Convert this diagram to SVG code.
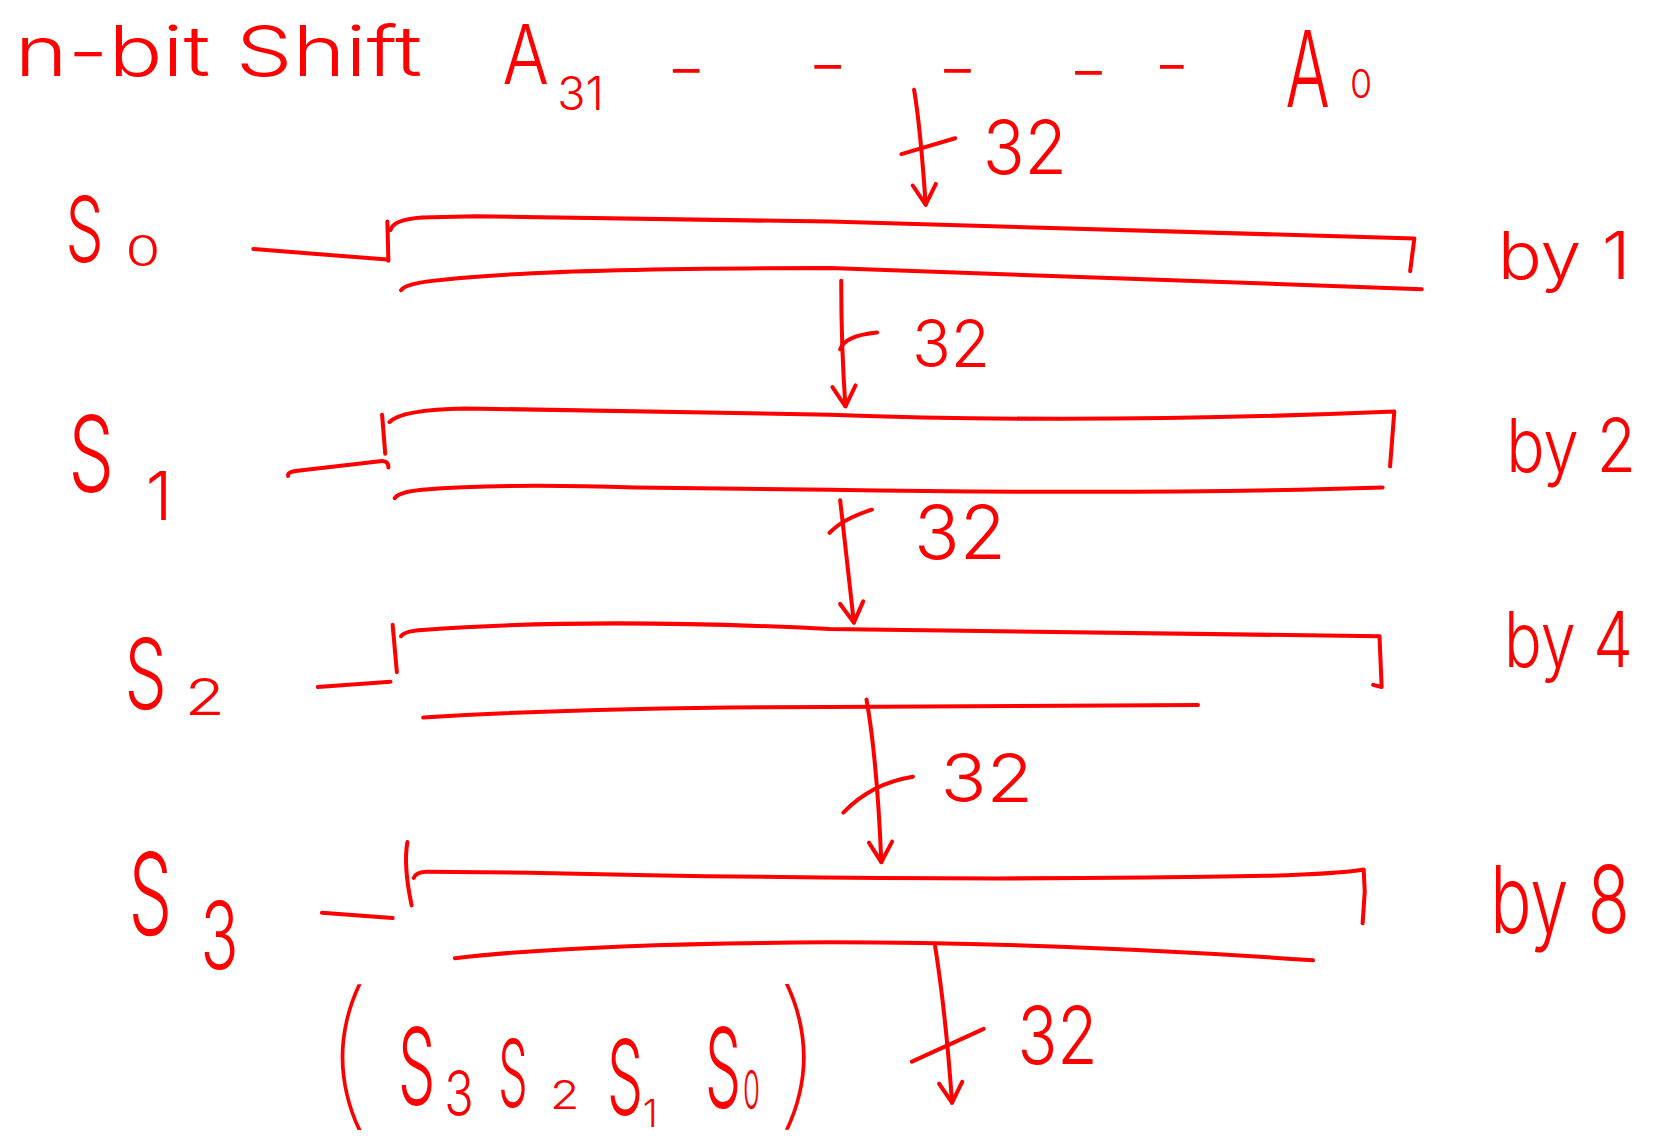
<svg xmlns="http://www.w3.org/2000/svg" width="1655" height="1146" viewBox="0 0 1655 1146">
<defs>
<style>
.s{fill:none;stroke:#ff0000;stroke-width:3.8;stroke-linecap:round;stroke-linejoin:round}
.t{fill:#ff0000;font-family:Inter,"Liberation Sans",Arial,sans-serif;font-weight:300}
.p{fill:#ff0000;font-family:Inter,"Liberation Sans",Arial,sans-serif;font-weight:100}
.d{fill:#ff0000;font-family:Inter,"Liberation Sans",Arial,sans-serif;font-weight:400;font-size:44px}
</style>
<marker id="ah" markerUnits="userSpaceOnUse" viewBox="-22 -15 26 30" refX="0" refY="0" markerWidth="26" markerHeight="30" orient="auto" overflow="visible">
<path d="M-19,-11 L0,0 L-19,11" fill="none" stroke="#ff0000" stroke-width="3.8" stroke-linecap="round" stroke-linejoin="round"/>
</marker>
</defs>
<rect width="1655" height="1146" fill="#ffffff"/>
<g transform="scale(1.05548,1.05525)">
<g id="title">
<text class="t" x="14" y="72" font-size="66" textLength="386" lengthAdjust="spacingAndGlyphs">n-bit Shift</text>
</g>
<g id="input-a">
<text class="t" transform="translate(476,80) scale(1,1.22)" font-size="64" textLength="44" lengthAdjust="spacingAndGlyphs">A</text>
<text class="t" x="528" y="104" font-size="44" textLength="44" lengthAdjust="spacingAndGlyphs">31</text>
<text class="d" transform="translate(632,81) scale(1.8,1)">-</text>
<text class="d" transform="translate(766,77) scale(1.8,1)">-</text>
<text class="d" transform="translate(889,81) scale(1.8,1)">-</text>
<text class="d" transform="translate(1013,82) scale(1.8,1)">-</text>
<text class="d" transform="translate(1094,77) scale(1.6,1)">-</text>
<text class="t" transform="translate(1218,101) scale(1,1.67)" font-size="60" textLength="42" lengthAdjust="spacingAndGlyphs">A</text>
<text class="t" x="1279" y="93" font-size="38" textLength="21" lengthAdjust="spacingAndGlyphs">0</text>
</g>
<g id="sel-s0">
<text class="t" x="62" y="248" font-size="86" textLength="36" lengthAdjust="spacingAndGlyphs">S</text>
<text class="t" x="119" y="252" font-size="40" textLength="33" lengthAdjust="spacingAndGlyphs">0</text>
</g>
<g id="sel-s1">
<text class="t" x="65" y="466" font-size="100" textLength="43" lengthAdjust="spacingAndGlyphs">S</text>
<text class="t" x="138" y="493" font-size="64">1</text>
</g>
<g id="sel-s2">
<text class="t" x="118" y="672" font-size="92" textLength="40" lengthAdjust="spacingAndGlyphs">S</text>
<text class="t" x="175" y="678" font-size="48" textLength="38" lengthAdjust="spacingAndGlyphs">2</text>
</g>
<g id="sel-s3">
<text class="t" x="122" y="886" font-size="108" textLength="41" lengthAdjust="spacingAndGlyphs">S</text>
<text class="t" x="190" y="918" font-size="88" textLength="36" lengthAdjust="spacingAndGlyphs">3</text>
</g>
<g id="shifter-1">
<path class="s" d="M240,236 L367,246"/>
<path class="s" d="M367,210 L368,247"/>
<path class="s" d="M370,218 Q372,208 400,206 L451,205 L786,210 L1340,226 L1336,257"/>
<path class="s" d="M380,275 Q384,268 420,265 Q520,254 786,254 Q1100,264 1347,274"/>
<text class="t" x="1419" y="264" font-size="63" textLength="126" lengthAdjust="spacingAndGlyphs">by 1</text>
</g>
<g id="shifter-2">
<path class="s" d="M273,451 Q272,447 282,446 L360,437 Q368,436 368,443"/>
<path class="s" d="M362,393 L365,430"/>
<path class="s" d="M369,400 Q380,388 441,387 L786,393 Q1036,402 1321,390 L1317,442"/>
<path class="s" d="M374,472 Q378,466 400,464 Q477,458 602,462 L786,464 Q1086,469 1310,462"/>
<text class="t" x="1427" y="447" font-size="70" textLength="123" lengthAdjust="spacingAndGlyphs">by 2</text>
</g>
<g id="shifter-3">
<path class="s" d="M301,651 L370,646"/>
<path class="s" d="M372,592 L376,637"/>
<path class="s" d="M380,603 Q383,598 400,597 Q560,585 786,596 L1307,603 L1309,651 L1301,649"/>
<path class="s" d="M401,680 Q560,670 786,670 L1135,668"/>
<text class="t" transform="translate(1425,632) scale(1,1.1)" font-size="66" textLength="122" lengthAdjust="spacingAndGlyphs">by 4</text>
</g>
<g id="shifter-4">
<path class="s" d="M305,865 L372,870"/>
<path class="s" d="M386,798 Q382,820 390,858"/>
<path class="s" d="M392,832 Q394,826 405,826 L501,827 Q900,836 1200,830 Q1270,828 1292,824 L1293,845 L1291,875"/>
<path class="s" d="M431,908 Q552,894 786,893 Q1000,893 1244,910"/>
<text class="t" transform="translate(1412,884) scale(1,1.3)" font-size="68" textLength="132" lengthAdjust="spacingAndGlyphs">by 8</text>
</g>
<g id="output">
<text class="p" x="305" y="1050" font-size="152">(</text>
<text class="t" transform="translate(377,1047) scale(1,1.82)" font-size="56">S</text>
<text class="t" transform="translate(421,1058) scale(1,1.3)" font-size="46">3</text>
<text class="t" transform="translate(472,1049) scale(1,2)" font-size="44">S</text>
<text class="t" transform="translate(521,1051) scale(1.2,1)" font-size="38">2</text>
<text class="t" transform="translate(575,1057) scale(1,1.83)" font-size="54">S</text>
<text class="t" x="609" y="1068" font-size="36">1</text>
<text class="t" transform="translate(668,1050) scale(1,1.96)" font-size="54">S</text>
<text class="t" transform="translate(704,1051) scale(1,1.95)" font-size="26">0</text>
<text class="p" x="733" y="1050" font-size="152">)</text>
</g>
<g id="connectors">
<path class="s" marker-end="url(#ah)" d="M866,85 Q872,120 877,194"/>
<path class="s" d="M854,146 L905,131"/>
<text class="t" x="931" y="165" font-size="70" textLength="80" lengthAdjust="spacingAndGlyphs">32</text>
<path class="s" marker-end="url(#ah)" d="M797,266 Q797,330 801,385"/>
<path class="s" d="M796,331 Q800,318 831,315"/>
<text class="t" x="864" y="348" font-size="62" textLength="74" lengthAdjust="spacingAndGlyphs">32</text>
<path class="s" marker-end="url(#ah)" d="M796,474 L809,590"/>
<path class="s" d="M786,505 Q798,492 826,483"/>
<text class="t" x="866" y="530" font-size="70" textLength="87" lengthAdjust="spacingAndGlyphs">32</text>
<path class="s" marker-end="url(#ah)" d="M821,663 Q831,720 835,817"/>
<path class="s" d="M799,770 Q826,742 865,736"/>
<text class="t" x="891" y="760" font-size="64" textLength="88" lengthAdjust="spacingAndGlyphs">32</text>
<path class="s" marker-end="url(#ah)" d="M886,897 Q896,960 902,1045"/>
<path class="s" d="M864,1006 L932,975"/>
<text class="t" x="964" y="1008" font-size="76" textLength="76" lengthAdjust="spacingAndGlyphs">32</text>
</g>
</g>
</svg>
